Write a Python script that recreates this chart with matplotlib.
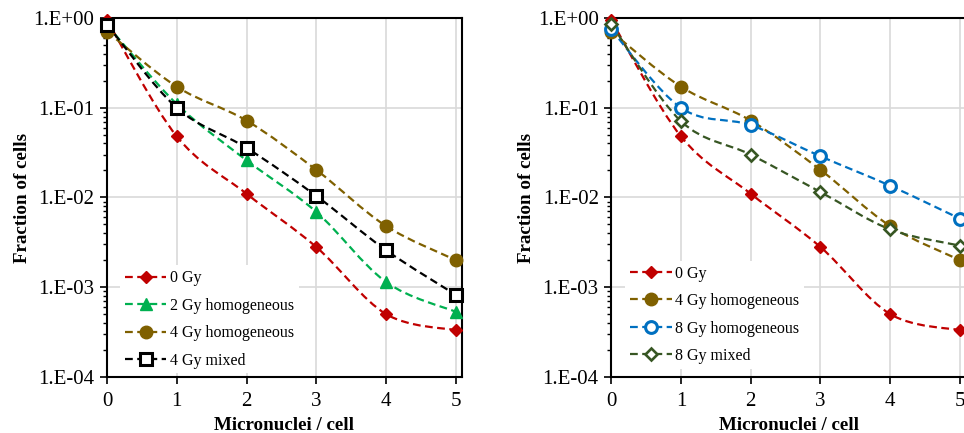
import numpy as np
import matplotlib
matplotlib.use("Agg")
import matplotlib.pyplot as plt
from matplotlib.path import Path
from matplotlib.patches import PathPatch
from matplotlib.lines import Line2D
from matplotlib.ticker import FuncFormatter, LogLocator, NullFormatter

plt.rcParams["font.family"] = ["Liberation Serif", "DejaVu Serif"]

mn = [0, 1, 2, 3, 4, 5]

gy0 = [0.95, 0.048, 0.011, 0.0028, 0.0005, 0.00033]
gy2_hom = [0.84, 0.11, 0.026, 0.0069, 0.00114, 0.00053]
gy4_hom = [0.71, 0.172, 0.072, 0.0203, 0.0048, 0.0020]
gy4_mix = [0.85, 0.10, 0.0357, 0.0104, 0.00258, 0.00082]
gy8_hom = [0.75, 0.10, 0.064, 0.0288, 0.0135, 0.0058]
gy8_mix = [0.86, 0.071, 0.030, 0.0115, 0.0044, 0.0029]

RED = "#C00000"
GREEN = "#00B050"
BROWN = "#7F6000"
BLACK = "#000000"
BLUE = "#0070C0"
DKGREEN = "#375623"

styles = {
    "0 Gy": dict(color=RED, marker="D", ms=6, mfc=RED, mew=1),
    "2 Gy homogeneous": dict(color=GREEN, marker="^", ms=8.5, mfc=GREEN, mew=1),
    "4 Gy homogeneous": dict(color=BROWN, marker="o", ms=9, mfc=BROWN, mew=1),
    "4 Gy mixed": dict(color=BLACK, marker="s", ms=8.5, mfc="white", mew=2.2),
    "8 Gy homogeneous": dict(color=BLUE, marker="o", ms=8.5, mfc="white", mew=2.2),
    "8 Gy mixed": dict(color=DKGREEN, marker="D", ms=6.5, mfc="white", mew=1.9),
}


def smooth_path(x, y):
    # Excel-like smoothed line: Catmull-Rom Bezier in (x, log y) space
    x = np.asarray(x, float)
    ly = np.log10(np.asarray(y, float))
    P = np.column_stack([x, ly])
    n = len(P)
    verts = [P[0]]
    codes = [Path.MOVETO]
    for i in range(n - 1):
        p0 = P[i - 1] if i > 0 else P[i]
        p1 = P[i]
        p2 = P[i + 1]
        p3 = P[i + 2] if i + 2 < n else P[i + 1]
        c1 = p1 + (p2 - p0) / 6.0
        c2 = p2 - (p3 - p1) / 6.0
        verts += [c1, c2, p2]
        codes += [Path.CURVE4] * 3
    verts = np.array(verts)
    verts[:, 1] = 10 ** verts[:, 1]
    return Path(verts, codes)


def draw(ax, y, label):
    st = styles[label]
    patch = PathPatch(smooth_path(mn, y), fill=False, edgecolor=st["color"],
                      lw=1.6, linestyle=(0, (3.5, 2)), zorder=3)
    ax.add_patch(patch)
    ax.plot(mn, y, linestyle="none", marker=st["marker"], ms=st["ms"],
            mfc=st["mfc"], mec=st["color"], mew=st["mew"], zorder=4, clip_on=False)
    return Line2D([0], [0], color=st["color"], lw=1.6, linestyle=(0, (3.5, 2)),
                  marker=st["marker"], ms=st["ms"], mfc=st["mfc"],
                  mec=st["color"], mew=st["mew"], label=label)


def setup(ax):
    ax.set_yscale("log")
    ax.set_ylim(1e-4, 1)
    ax.set_xlim(0, 5.086)
    ax.set_xticks(mn)
    ax.yaxis.set_major_locator(LogLocator(base=10, numticks=10))
    ax.yaxis.set_minor_locator(LogLocator(base=10, subs=np.arange(2, 10), numticks=10))
    ax.yaxis.set_minor_formatter(NullFormatter())
    ax.yaxis.set_major_formatter(FuncFormatter(lambda v, p: "1.E%+03d" % int(round(np.log10(v)))))
    ax.grid(True, which="major", color="#d9d9d9", lw=1.2, zorder=0)
    ax.set_axisbelow(True)
    ax.tick_params(axis="both", which="major", labelsize=15, length=5, width=1.2,
                   direction="out", pad=4)
    ax.tick_params(axis="x", which="major", pad=6)
    ax.tick_params(axis="y", which="minor", length=3, width=1, direction="out")
    for s in ax.spines.values():
        s.set_linewidth(1.5)
    ax.set_xlabel("Micronuclei / cell", fontsize=13.7, fontweight="bold", labelpad=4)
    ax.set_ylabel("Fraction of cells", fontsize=13.7, fontweight="bold", labelpad=2)


def add_legend(ax, handles, anchor):
    leg = ax.legend(handles=handles, loc="lower left", bbox_to_anchor=anchor,
                    frameon=True, fontsize=11.5, handlelength=2.6, labelspacing=0.72,
                    handletextpad=0.2, borderpad=0.3, borderaxespad=0)
    leg.get_frame().set_edgecolor("none")
    leg.get_frame().set_facecolor("white")
    leg.get_frame().set_alpha(1)
    leg.set_zorder(2.5)


fig = plt.figure(figsize=(9.64, 4.33), dpi=100)
ax1 = fig.add_axes([0.111, 0.130, 0.368, 0.828])
ax2 = fig.add_axes([0.634, 0.130, 0.368, 0.828])

setup(ax1)
h = [draw(ax1, gy0, "0 Gy"), draw(ax1, gy2_hom, "2 Gy homogeneous"),
     draw(ax1, gy4_hom, "4 Gy homogeneous"), draw(ax1, gy4_mix, "4 Gy mixed")]
add_legend(ax1, h, (0.037, 0.009))

setup(ax2)
h = [draw(ax2, gy0, "0 Gy"), draw(ax2, gy4_hom, "4 Gy homogeneous"),
     draw(ax2, gy8_hom, "8 Gy homogeneous"), draw(ax2, gy8_mix, "8 Gy mixed")]
add_legend(ax2, h, (0.04, 0.022))

fig.savefig("out.png", dpi=100)
